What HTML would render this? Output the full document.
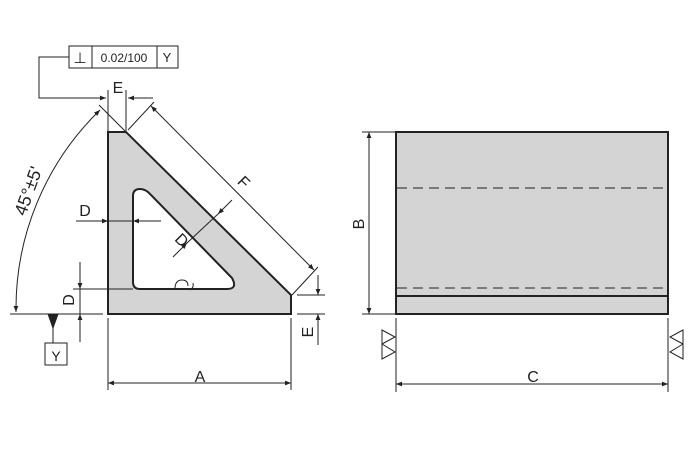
<!DOCTYPE html>
<html><head><style>body{margin:0;background:#fff}svg{display:block}</style></head><body>
<svg width="700" height="451" viewBox="0 0 700 451" xmlns="http://www.w3.org/2000/svg" font-family="Liberation Sans, sans-serif">
<defs>
<marker id="a" viewBox="0 0 10 10" refX="10" refY="5" markerWidth="9" markerHeight="6" orient="auto-start-reverse" markerUnits="userSpaceOnUse"><path d="M0,1 L10,5 L0,9z" fill="#222"/></marker>
</defs>
<g stroke="#222" stroke-width="1" fill="none">
<path d="M108,132 L126,132 L291,295 L291,314 L108,314Z" fill="#d4d4d4" stroke-width="2"/>
<path d="M133,196 Q133,189 140,189 Q146,189 151,195 L232,278 Q238,289 227,289 L140,289 Q133,289 133,282Z" fill="#fff" stroke-width="2"/>
<path d="M175,289 Q175,280 182,280 Q188,280 188,286 M193,283 Q194,288 190,290" stroke-width="1"/>
<rect x="69" y="46" width="109" height="22" fill="#fff"/>
<line x1="92" y1="46" x2="92" y2="68"/><line x1="157" y1="46" x2="157" y2="68"/>
<polyline points="69,57 39,57 39,98 106,98" marker-end="url(#a)"/>
<line x1="153" y1="98" x2="128" y2="98" marker-end="url(#a)"/>
<line x1="108" y1="90" x2="108" y2="132"/><line x1="126" y1="90" x2="126" y2="132"/>
<line x1="126" y1="132" x2="99" y2="105"/>
<line x1="10" y1="314" x2="103" y2="314"/>
<path d="M16,312 A277,277 0 0 1 100,110" marker-start="url(#a)" marker-end="url(#a)"/>
<path d="M48,314 L58,314 L53,328Z" fill="#222"/>
<line x1="53" y1="320" x2="53" y2="343"/>
<rect x="45" y="343" width="22" height="22" fill="#fff"/>
<line x1="128" y1="130" x2="154" y2="102"/>
<line x1="292" y1="295" x2="318" y2="267"/>
<line x1="151" y1="106" x2="314" y2="270" marker-start="url(#a)" marker-end="url(#a)"/>
<line x1="173" y1="257" x2="187" y2="243" marker-end="url(#a)"/>
<line x1="232" y1="200" x2="218" y2="214" marker-end="url(#a)"/>
<line x1="187" y1="243" x2="218" y2="214"/>
<line x1="76" y1="221" x2="108" y2="221" marker-end="url(#a)"/>
<line x1="161" y1="221" x2="133" y2="221" marker-end="url(#a)"/>
<line x1="108" y1="221" x2="133" y2="221"/>
<line x1="73" y1="289" x2="133" y2="289"/>
<line x1="80" y1="262" x2="80" y2="289" marker-end="url(#a)"/>
<line x1="80" y1="342" x2="80" y2="314" marker-end="url(#a)"/>
<line x1="80" y1="289" x2="80" y2="314"/>
<line x1="297" y1="295" x2="325" y2="295"/><line x1="297" y1="314" x2="325" y2="314"/>
<line x1="318" y1="275" x2="318" y2="295" marker-end="url(#a)"/>
<line x1="318" y1="345" x2="318" y2="314" marker-end="url(#a)"/>
<line x1="108" y1="318" x2="108" y2="390"/><line x1="291" y1="318" x2="291" y2="390"/>
<line x1="108" y1="383" x2="291" y2="383" marker-start="url(#a)" marker-end="url(#a)"/>
<rect x="396" y="132" width="272" height="182" fill="#d4d4d4" stroke-width="2"/>
<line x1="396" y1="296" x2="668" y2="296" stroke-width="2"/>
<line x1="397" y1="188" x2="667" y2="188" stroke="#444" stroke-width="1.3" stroke-dasharray="10,6"/>
<line x1="397" y1="288" x2="667" y2="288" stroke="#444" stroke-width="1.3" stroke-dasharray="10,6"/>
<line x1="362" y1="132" x2="395" y2="132"/><line x1="362" y1="314" x2="395" y2="314"/>
<line x1="369" y1="132" x2="369" y2="314" marker-start="url(#a)" marker-end="url(#a)"/>
<line x1="396" y1="318" x2="396" y2="392"/><line x1="668" y1="318" x2="668" y2="392"/>
<line x1="396" y1="384" x2="668" y2="384" marker-start="url(#a)" marker-end="url(#a)"/>
<path d="M382,330 L395,337 L382,344Z M382,344 L395,352 L382,359Z"/>
<path d="M683,330 L670,337 L683,344Z M683,344 L670,352 L683,359Z"/>
</g>
<g fill="#222" font-size="16" text-anchor="middle">
<text x="80" y="63" font-size="15">⊥</text>
<text x="124" y="62" font-size="12">0.02/100</text>
<text x="167" y="62" font-size="13">Y</text>
<text x="118" y="93">E</text>
<text x="56" y="361" font-size="14">Y</text>
<text x="0" y="0" transform="translate(34,193) rotate(-70)" font-size="18">45°±5'</text>
<text x="0" y="0" transform="translate(240,186) rotate(45)">F</text>
<text x="0" y="0" transform="translate(178,244) rotate(45)">D</text>
<text x="85" y="216">D</text>
<text x="0" y="0" transform="translate(74,300) rotate(-90)">D</text>
<text x="0" y="0" transform="translate(313,332) rotate(-90)">E</text>
<text x="200" y="382">A</text>
<text x="0" y="0" transform="translate(364,224) rotate(-90)">B</text>
<text x="533" y="382">C</text>
</g>
</svg>
</body></html>
